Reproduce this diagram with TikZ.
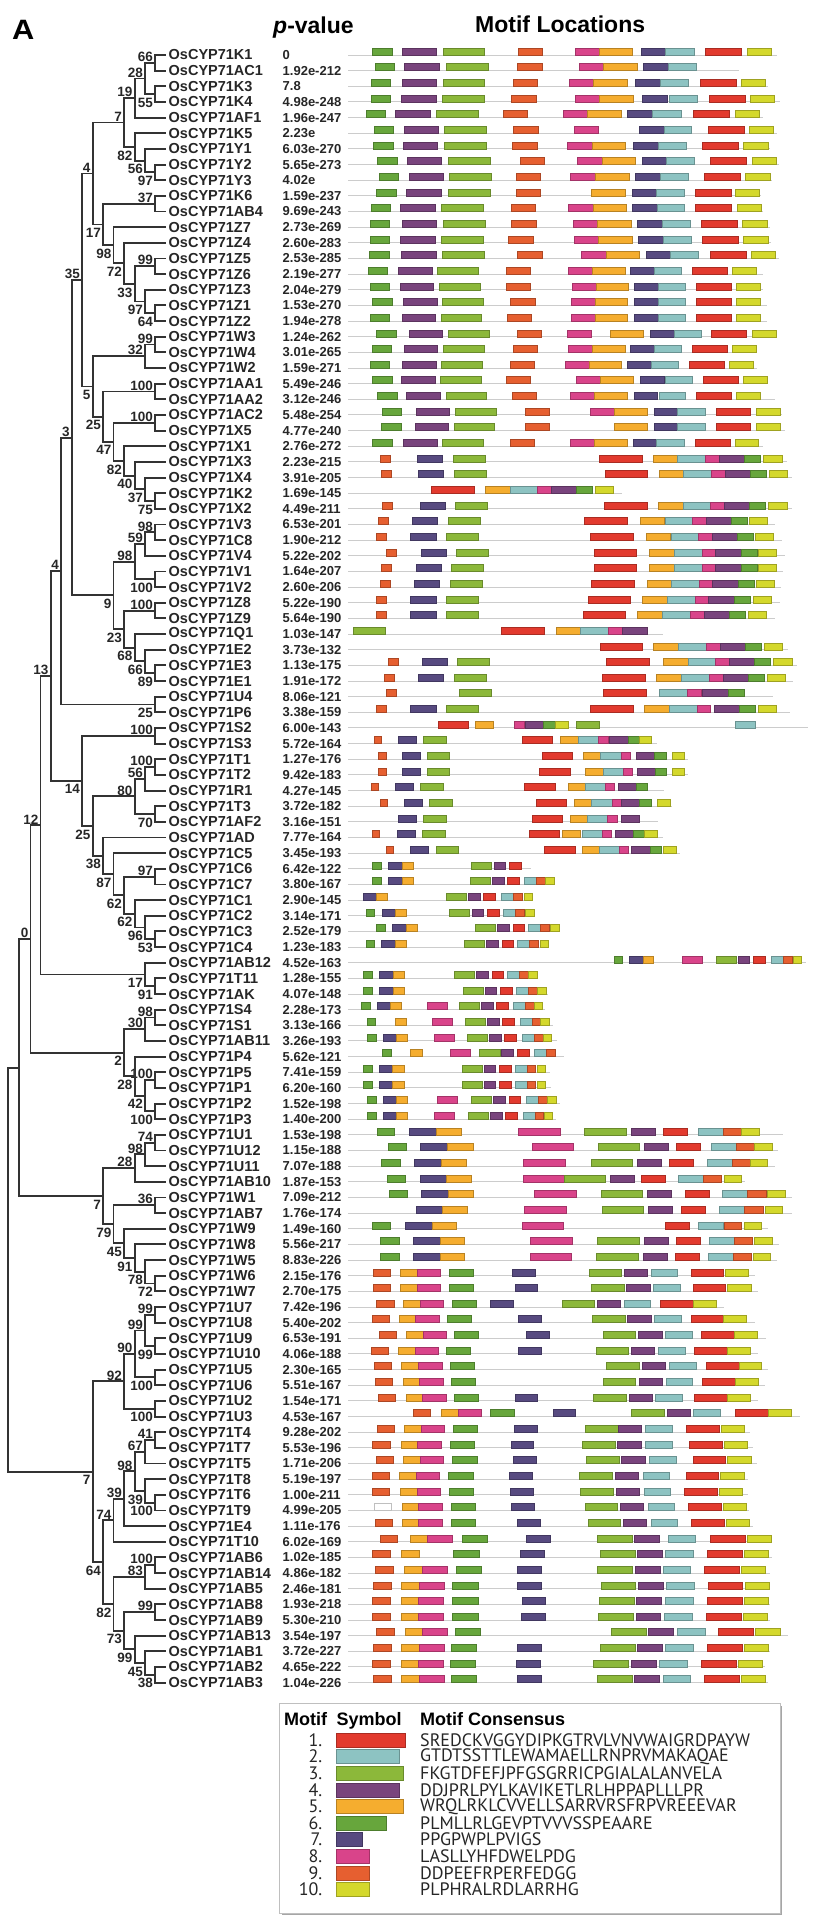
\documentclass[tikz,border=0pt]{standalone}
\usepackage{fontspec}
\setmainfont{Liberation Sans}
\newfontfamily\consfont{PT Sans}
\usetikzlibrary{calc}

\definecolor{m1}{HTML}{E23A2E}
\definecolor{m2}{HTML}{8DC3C2}
\definecolor{m3}{HTML}{8CB83A}
\definecolor{m4}{HTML}{79447D}
\definecolor{m5}{HTML}{F5AD2F}
\definecolor{m6}{HTML}{67A63C}
\definecolor{m7}{HTML}{574A80}
\definecolor{m8}{HTML}{D9448A}
\definecolor{m9}{HTML}{E65F30}
\definecolor{m10}{HTML}{D4D82C}
\definecolor{mw}{HTML}{FFFFFF}
\definecolor{treeline}{HTML}{333333}

\tikzset{
  branch/.style={draw=treeline, line width=1.9pt},
  leaf/.style={anchor=west, inner xsep=3pt, inner ysep=0pt, text=black!85,
    font=\fontsize{14.5}{16}\selectfont\bfseries},
  pval/.style={anchor=west, inner sep=0pt, text=black!85,
    font=\fontsize{13}{15}\selectfont\bfseries},
  bootA/.style={anchor=south east, inner xsep=2pt, inner ysep=1pt, text=black!85,
    font=\fontsize{13.5}{15}\selectfont\bfseries},
  bootB/.style={bootA, anchor=north east, yshift=-2.5pt},
  head/.style={anchor=base west, inner sep=0pt, font=\fontsize{23}{26}\selectfont\bfseries},
  lhead/.style={anchor=base west, inner sep=0pt, font=\fontsize{18}{20}\selectfont\bfseries},
  lcons/.style={anchor=west, inner sep=0pt, text=black!85, font=\fontsize{18}{20}\consfont},
  seqline/.style={draw=black!20, line width=1pt},
  motif/.style={fill=m#1, draw=m#1!75!black, line width=0.35pt},
}

% one clade: name, depth, upper child, lower child, bootstrap, label side
\newcommand\clade[6]{%
  \path let \p1=(#3), \p2=(#4) in coordinate (#1) at (#2pt, {0.5*(\y1+\y2)});
  \draw[branch] (#3) -| (#1) |- (#4);
  \node[#6] (b#1) at (#1) {#5};
}

% one sequence row: row number, line end, motif/start/end list
\newcommand\motifs[3]{%
  \pgfmathsetmacro\ry{55+(#1-1)*15.65}
  \draw[seqline] (24,\ry) -- (#2,\ry);
  \foreach \m/\a/\b in {#3}
    \draw[motif=\m] (\a,\ry) rectangle (\b,\ry-7);
}

\begin{document}
\begin{tikzpicture}[x=1pt, y=-1pt]
  \useasboundingbox (0,0) rectangle (822,1920);

  \node[head, font=\fontsize{28}{30}\selectfont\bfseries] (panel) at (12,39.5) {\scalebox{1.1}[1]{A}};
  \node[head] (phead) at (273,33) {\textit{p}-value};
  \node[head] (mhead) at (475,32) {Motif Locations};

  % leaves and p-values
  \foreach \gene/\pv [count=\k] in {K1/0, AC1/1.92e-212, K3/7.8, K4/4.98e-248, AF1/1.96e-247,
      K5/2.23e, Y1/6.03e-270, Y2/5.65e-273, Y3/4.02e, K6/1.59e-237, AB4/9.69e-243,
      Z7/2.73e-269, Z4/2.60e-283, Z5/2.53e-285, Z6/2.19e-277, Z3/2.04e-279, Z1/1.53e-270,
      Z2/1.94e-278, W3/1.24e-262, W4/3.01e-265, W2/1.59e-271, AA1/5.49e-246, AA2/3.12e-246,
      AC2/5.48e-254, X5/4.77e-240, X1/2.76e-272, X3/2.23e-215, X4/3.91e-205, K2/1.69e-145,
      X2/4.49e-211, V3/6.53e-201, C8/1.90e-212, V4/5.22e-202, V1/1.64e-207, V2/2.60e-206,
      Z8/5.22e-190, Z9/5.64e-190, Q1/1.03e-147, E2/3.73e-132, E3/1.13e-175, E1/1.91e-172,
      U4/8.06e-121, P6/3.38e-159, S2/6.00e-143, S3/5.72e-164, T1/1.27e-176, T2/9.42e-183,
      R1/4.27e-145, T3/3.72e-182, AF2/3.16e-151, AD/7.77e-164, C5/3.45e-193, C6/6.42e-122,
      C7/3.80e-167, C1/2.90e-145, C2/3.14e-171, C3/2.52e-179, C4/1.23e-183, AB12/4.52e-163,
      T11/1.28e-155, AK/4.07e-148, S4/2.28e-173, S1/3.13e-166, AB11/3.26e-193, P4/5.62e-121,
      P5/7.41e-159, P1/6.20e-160, P2/1.52e-198, P3/1.40e-200, U1/1.53e-198, U12/1.15e-188,
      U11/7.07e-188, AB10/1.87e-153, W1/7.09e-212, AB7/1.76e-174, W9/1.49e-160, W8/5.56e-217,
      W5/8.83e-226, W6/2.15e-176, W7/2.70e-175, U7/7.42e-196, U8/5.40e-202, U9/6.53e-191,
      U10/4.06e-188, U5/2.30e-165, U6/5.51e-167, U2/1.54e-171, U3/4.53e-167, T4/9.28e-202,
      T7/5.53e-196, T5/1.71e-206, T8/5.19e-197, T6/1.00e-211, T9/4.99e-205, E4/1.11e-176,
      T10/6.02e-169, AB6/1.02e-185, AB14/4.86e-182, AB5/2.46e-181, AB8/1.93e-218,
      AB9/5.30e-210, AB13/3.54e-197, AB1/3.72e-227, AB2/4.65e-222, AB3/1.04e-226}
  {
    \node[leaf] (\gene) at (165.5, {55+(\k-1)*15.65}) {OsCYP71\gene};
    \node[pval] (p\gene) at (282.5, {55+(\k-1)*15.65}) {\pv};
  }

  % tree
  \clade{n1}{155}{K1}{AC1}{66}{bootA}
  \clade{n2}{155}{K3}{K4}{55}{bootB}
  \clade{n3}{145}{n1}{n2}{28}{bootA}
  \clade{n4}{134.7}{n3}{AF1}{19}{bootA}
  \clade{n5}{155}{Y2}{Y3}{97}{bootB}
  \clade{n6}{145}{Y1}{n5}{56}{bootB}
  \clade{n7}{134.7}{K5}{n6}{82}{bootB}
  \clade{n8}{124}{n4}{n7}{7}{bootA}
  \clade{n9}{155}{K6}{AB4}{37}{bootA}
  \clade{n10}{155}{Z5}{Z6}{99}{bootA}
  \clade{n11}{155}{Z1}{Z2}{64}{bootB}
  \clade{n12}{145}{Z3}{n11}{97}{bootB}
  \clade{n13}{134.7}{n10}{n12}{33}{bootB}
  \clade{n14}{124}{Z4}{n13}{72}{bootB}
  \clade{n15}{113.5}{Z7}{n14}{98}{bootB}
  \clade{n16}{103.2}{n9}{n15}{17}{bootB}
  \clade{n17}{92.7}{n8}{n16}{4}{bootA}
  \clade{n18}{155}{W3}{W4}{99}{bootA}
  \clade{n19}{145}{n18}{W2}{32}{bootA}
  \clade{n20}{155}{AA1}{AA2}{100}{bootA}
  \clade{n21}{155}{AC2}{X5}{100}{bootA}
  \clade{n22}{155}{K2}{X2}{75}{bootB}
  \clade{n23}{145}{X4}{n22}{37}{bootB}
  \clade{n24}{134.7}{X3}{n23}{40}{bootB}
  \clade{n25}{124}{X1}{n24}{82}{bootB}
  \clade{n26}{113.5}{n21}{n25}{47}{bootB}
  \clade{n27}{103.2}{n20}{n26}{25}{bootB}
  \clade{n28}{92.7}{n19}{n27}{5}{bootB}
  \clade{n29}{82}{n17}{n28}{35}{bootA}
  \clade{n30}{155}{V3}{C8}{98}{bootA}
  \clade{n31}{145}{n30}{V4}{59}{bootA}
  \clade{n32}{155}{V1}{V2}{100}{bootB}
  \clade{n33}{134.7}{n31}{n32}{98}{bootA}
  \clade{n34}{155}{Z8}{Z9}{100}{bootA}
  \clade{n35}{155}{E3}{E1}{89}{bootB}
  \clade{n36}{145}{E2}{n35}{66}{bootB}
  \clade{n37}{134.7}{Q1}{n36}{68}{bootB}
  \clade{n38}{124}{n34}{n37}{23}{bootB}
  \clade{n39}{113.5}{n33}{n38}{9}{bootB}
  \clade{n40}{71.8}{n29}{n39}{3}{bootA}
  \clade{n41}{155}{U4}{P6}{25}{bootB}
  \clade{n42}{61}{n40}{n41}{4}{bootA}
  \clade{n43}{155}{S2}{S3}{100}{bootA}
  \clade{n44}{155}{T1}{T2}{100}{bootA}
  \clade{n45}{145}{n44}{R1}{56}{bootA}
  \clade{n46}{155}{T3}{AF2}{70}{bootB}
  \clade{n47}{134.7}{n45}{n46}{80}{bootA}
  \clade{n48}{155}{C6}{C7}{97}{bootA}
  \clade{n49}{155}{C3}{C4}{53}{bootB}
  \clade{n50}{145}{C2}{n49}{96}{bootB}
  \clade{n51}{134.7}{C1}{n50}{62}{bootB}
  \clade{n52}{124}{n48}{n51}{62}{bootB}
  \clade{n53}{113.5}{C5}{n52}{87}{bootB}
  \clade{n54}{103.2}{AD}{n53}{38}{bootB}
  \clade{n55}{92.7}{n47}{n54}{25}{bootB}
  \clade{n56}{82}{n43}{n55}{14}{bootB}
  \clade{n57}{50.7}{n42}{n56}{13}{bootA}
  \clade{n58}{155}{T11}{AK}{91}{bootB}
  \clade{n59}{145}{AB12}{n58}{17}{bootB}
  \clade{n60}{40.5}{n57}{n59}{12}{bootA}
  \clade{n61}{155}{S4}{S1}{98}{bootA}
  \clade{n62}{145}{n61}{AB11}{30}{bootA}
  \clade{n63}{155}{P5}{P1}{100}{bootA}
  \clade{n64}{155}{P2}{P3}{100}{bootB}
  \clade{n65}{145}{n63}{n64}{42}{bootB}
  \clade{n66}{134.7}{P4}{n65}{28}{bootB}
  \clade{n67}{124}{n62}{n66}{2}{bootB}
  \clade{n68}{30.5}{n60}{n67}{0}{bootA}
  \clade{n69}{155}{U1}{U12}{74}{bootA}
  \clade{n70}{145}{n69}{U11}{98}{bootA}
  \clade{n71}{134.7}{n70}{AB10}{28}{bootA}
  \clade{n72}{155}{W1}{AB7}{36}{bootA}
  \clade{n73}{155}{W6}{W7}{72}{bootB}
  \clade{n74}{145}{W5}{n73}{78}{bootB}
  \clade{n75}{134.7}{W8}{n74}{91}{bootB}
  \clade{n76}{124}{W9}{n75}{45}{bootB}
  \clade{n77}{113.5}{n72}{n76}{79}{bootB}
  \clade{n78}{103.2}{n71}{n77}{7}{bootB}
  \path let \p1=(n68), \p2=(n78) in coordinate (n79) at (19.3pt, {0.5*(\y1+\y2)});
  \draw[branch] (n68) -| (n79) |- (n78);
  \clade{n80}{155}{U7}{U8}{99}{bootA}
  \clade{n81}{155}{U9}{U10}{99}{bootB}
  \clade{n82}{145}{n80}{n81}{99}{bootA}
  \clade{n83}{155}{U5}{U6}{100}{bootB}
  \clade{n84}{134.7}{n82}{n83}{90}{bootA}
  \clade{n85}{155}{U2}{U3}{100}{bootB}
  \clade{n86}{124}{n84}{n85}{92}{bootA}
  \clade{n87}{155}{T4}{T7}{41}{bootA}
  \clade{n88}{145}{n87}{T5}{67}{bootA}
  \clade{n89}{155}{T6}{T9}{100}{bootB}
  \clade{n90}{145}{T8}{n89}{39}{bootB}
  \clade{n91}{134.7}{n88}{n90}{98}{bootA}
  \clade{n92}{124}{n91}{E4}{39}{bootA}
  \clade{n93}{113.5}{n92}{T10}{74}{bootA}
  \clade{n94}{155}{AB6}{AB14}{100}{bootA}
  \clade{n95}{145}{n94}{AB5}{83}{bootA}
  \clade{n96}{155}{AB8}{AB9}{99}{bootA}
  \clade{n97}{155}{AB2}{AB3}{38}{bootB}
  \clade{n98}{145}{AB1}{n97}{45}{bootB}
  \clade{n99}{134.7}{AB13}{n98}{99}{bootB}
  \clade{n100}{124}{n96}{n99}{73}{bootB}
  \clade{n101}{113.5}{n95}{n100}{82}{bootB}
  \clade{n102}{103.2}{n93}{n101}{64}{bootB}
  \clade{n103}{92.7}{n86}{n102}{7}{bootB}
  \path let \p1=(n79), \p2=(n103) in coordinate (root) at (8.3pt, {0.5*(\y1+\y2)});
  \draw[branch] (n79) -| (root) |- (n103);

  % motif locations, 3 units per pixel
  \begin{scope}[xshift=340pt, x=0.3333pt]
    \motifs{1}{1310}{6/97/157, 4/187/290, 3/309/434, 9/535/608, 8/705/778, 5/778/878, 7/903/977, 2/977/1062, 1/1097/1205, 10/1222/1295}
    \motifs{2}{1197}{6/105/164, 4/194/298, 3/318/444, 9/533/606, 8/717/791, 5/791/891, 7/910/985, 2/985/1068}
    \motifs{3}{1285}{6/93/152, 4/187/290, 3/309/434, 9/520/593, 8/687/761, 5/761/862, 7/886/960, 2/960/1044, 1/1080/1188, 10/1203/1277}
    \motifs{4}{1320}{6/93/152, 4/185/288, 3/306/432, 9/515/588, 8/705/778, 5/778/879, 7/908/981, 2/987/1071, 1/1107/1215, 10/1230/1304}
    \motifs{5}{1270}{6/78/137, 4/167/270, 3/288/414, 9/490/563, 8/669/743, 5/743/845, 7/863/937, 2/937/1023, 1/1060/1167, 10/1185/1257}
    \motifs{6}{1310}{6/102/161, 4/192/296, 3/314/439, 9/520/594, 8/702/775, 7/898/972, 2/972/1055, 1/1105/1212, 10/1228/1301}
    \motifs{7}{1290}{6/100/159, 4/190/293, 3/312/438, 9/518/591, 8/682/756, 5/756/857, 7/880/955, 2/955/1038, 1/1087/1195, 10/1211/1284}
    \motifs{8}{1318}{6/112/171, 4/202/305, 3/324/450, 9/540/613, 8/712/786, 5/786/887, 7/906/980, 2/980/1063, 1/1112/1220, 10/1236/1310}
    \motifs{9}{1295}{6/117/176, 4/207/310, 3/329/455, 9/528/601, 8/692/766, 5/766/867, 7/886/960, 2/960/1044, 1/1092/1200, 10/1216/1290}
    \motifs{10}{1262}{6/110/169, 4/200/303, 3/324/450, 9/528/601, 5/754/857, 7/876/950, 2/950/1034, 1/1067/1175, 10/1185/1257}
    \motifs{11}{1270}{6/93/152, 4/182/285, 3/304/430, 9/513/586, 8/685/759, 5/759/860, 7/878/952, 2/952/1034, 1/1067/1175, 10/1191/1265}
    \motifs{12}{1290}{6/90/149, 4/187/290, 3/309/435, 9/515/588, 8/699/773, 5/773/875, 7/893/967, 2/967/1051, 1/1084/1192, 10/1208/1282}
    \motifs{13}{1293}{6/90/149, 4/182/285, 3/304/430, 9/506/579, 8/702/776, 5/776/877, 7/895/969, 2/969/1053, 1/1087/1195, 10/1211/1284}
    \motifs{14}{1318}{6/88/147, 4/185/288, 3/306/432, 9/533/606, 8/724/798, 5/798/899, 7/918/992, 2/992/1076, 1/1110/1218, 10/1233/1307}
    \motifs{15}{1268}{6/84/142, 4/176/276, 3/293/416, 9/499/570, 8/684/756, 5/756/855, 7/872/943, 2/943/1025, 1/1057/1163, 10/1177/1250}
    \motifs{16}{1270}{6/90/147, 4/180/281, 3/298/420, 9/500/572, 8/696/768, 5/768/866, 7/884/956, 2/956/1037, 1/1069/1174, 10/1189/1261}
    \motifs{17}{1280}{6/98/156, 4/190/291, 3/308/430, 9/512/585, 8/693/765, 5/765/863, 7/883/956, 2/956/1037, 1/1069/1174, 10/1189/1261}
    \motifs{18}{1280}{6/91/149, 4/186/286, 3/303/425, 9/503/575, 8/693/765, 5/765/863, 7/883/956, 2/956/1037, 1/1069/1174, 10/1189/1261}
    \motifs{19}{1310}{6/110/168, 4/207/307, 3/325/447, 9/533/604, 8/681/753, 5/812/911, 7/930/1002, 2/1002/1083, 1/1115/1220, 10/1236/1308}
    \motifs{20}{1250}{6/96/153, 4/193/293, 3/311/432, 9/520/591, 8/684/756, 5/756/855, 7/872/943, 2/943/1025, 1/1057/1163, 10/1177/1250}
    \motifs{21}{1250}{6/91/149, 4/188/288, 3/305/428, 9/511/582, 8/675/747, 5/747/845, 7/862/934, 2/934/1016, 1/1048/1153, 10/1168/1240}
    \motifs{22}{1280}{6/98/156, 4/185/286, 3/302/425, 9/499/570, 8/710/782, 5/782/880, 7/901/972, 2/975/1056, 1/1089/1194, 10/1209/1281}
    \motifs{23}{1305}{6/113/171, 4/200/300, 3/318/440, 9/518/589, 8/691/763, 5/763/861, 7/882/953, 2/957/1037, 1/1070/1175, 10/1190/1261}
    \motifs{24}{1325}{6/127/185, 4/230/329, 3/347/469, 9/556/627, 8/752/824, 5/824/922, 7/942/1013, 2/1013/1095, 1/1128/1232, 10/1248/1320}
    \motifs{25}{1335}{6/125/183, 4/225/325, 3/342/464, 9/556/627, 5/824/922, 7/942/1013, 2/1013/1095, 1/1128/1232, 10/1248/1320}
    \motifs{26}{1268}{6/98/156, 4/190/291, 3/308/430, 9/511/582, 8/691/763, 5/763/861, 7/879/950, 2/950/1032, 1/1065/1170, 10/1185/1256}
    \motifs{27}{1340}{9/122/152, 7/233/308, 3/339/436, 1/778/906, 5/939/1013, 2/1013/1096, 8/1096/1138, 4/1138/1213, 6/1213/1262, 10/1269/1326}
    \motifs{28}{1355}{9/125/155, 7/235/311, 3/343/438, 1/795/923, 5/957/1031, 2/1031/1115, 8/1115/1156, 4/1156/1232, 6/1232/1280, 10/1287/1343}
    \motifs{29}{845}{1/273/402, 5/435/510, 2/510/593, 8/593/635, 4/635/710, 6/710/758, 10/766/821}
    \motifs{30}{1355}{9/127/157, 7/240/316, 3/347/443, 1/793/921, 5/955/1029, 2/1029/1111, 8/1111/1153, 4/1153/1229, 6/1229/1277, 10/1285/1341}
    \motifs{31}{1305}{9/115/145, 7/218/293, 3/324/420, 1/733/862, 5/900/974, 2/976/1058, 8/1058/1098, 4/1100/1175, 6/1175/1223, 10/1228/1282}
    \motifs{32}{1325}{9/110/140, 7/212/288, 3/319/415, 1/751/880, 5/918/992, 2/993/1076, 8/1076/1116, 4/1118/1193, 6/1193/1241, 10/1246/1300}
    \motifs{33}{1335}{9/140/170, 7/243/318, 3/350/446, 1/762/890, 5/928/1003, 2/1003/1086, 8/1086/1127, 4/1127/1203, 6/1203/1251, 10/1255/1310}
    \motifs{34}{1330}{9/125/155, 7/228/303, 3/335/431, 1/762/890, 5/928/1003, 2/1003/1086, 8/1086/1127, 4/1127/1203, 6/1203/1251, 10/1255/1310}
    \motifs{35}{1322}{9/120/150, 7/222/298, 3/330/426, 1/754/883, 5/922/995, 2/995/1078, 8/1078/1118, 4/1118/1196, 6/1196/1244, 10/1248/1302}
    \motifs{36}{1320}{9/110/140, 7/212/288, 3/319/415, 1/745/872, 5/908/982, 2/982/1066, 8/1066/1106, 4/1106/1183, 6/1183/1231, 10/1240/1295}
    \motifs{37}{1305}{9/110/140, 7/212/288, 3/319/415, 1/730/857, 5/893/966, 2/966/1050, 8/1050/1092, 4/1092/1168, 6/1168/1216, 10/1224/1280}
    \motifs{38}{970}{3/41/137, 1/485/614, 5/648/721, 2/721/804, 8/804/846, 4/846/921}
    \motifs{39}{1345}{1/780/908, 5/941/1015, 2/1015/1100, 8/1100/1140, 4/1140/1216, 6/1216/1264, 10/1272/1328}
    \motifs{40}{1370}{9/146/176, 7/246/321, 3/353/449, 1/800/928, 5/970/1044, 2/1044/1127, 8/1127/1168, 4/1168/1244, 6/1244/1292, 10/1300/1356}
    \motifs{41}{1358}{9/134/162, 7/236/311, 3/343/438, 1/787/916, 5/948/1023, 2/1023/1108, 8/1108/1150, 4/1150/1225, 6/1225/1273, 10/1282/1337}
    \motifs{42}{1300}{9/138/168, 3/358/453, 1/790/918, 2/958/1042, 8/1042/1083, 4/1088/1165, 6/1165/1213}
    \motifs{43}{1350}{9/110/140, 7/212/288, 3/319/415, 1/751/880, 5/912/988, 2/988/1071, 8/1071/1110, 4/1122/1198, 6/1198/1246, 10/1254/1310}
    \motifs{44}{1405}{1/294/385, 5/407/460, 8/523/552, 4/556/610, 6/610/645, 10/645/684, 3/710/779, 2/1185/1247}
    \motifs{45}{950}{9/103/123, 7/174/229, 3/250/318, 1/547/638, 5/660/714, 2/714/775, 8/775/804, 4/808/864, 6/864/898, 10/898/935}
    \motifs{46}{1045}{9/116/138, 7/187/241, 3/261/329, 1/606/698, 5/729/782, 2/782/843, 8/843/870, 4/889/943, 6/943/978, 10/996/1033}
    \motifs{47}{1045}{9/116/138, 7/187/241, 3/261/329, 1/599/691, 5/735/790, 2/790/850, 8/850/878, 4/891/945, 6/945/980, 10/996/1033}
    \motifs{48}{972}{9/93/114, 7/166/220, 3/241/309, 1/554/645, 5/684/737, 2/737/797, 8/797/824, 4/834/888, 6/888/922}
    \motifs{49}{995}{9/121/143, 7/192/247, 3/268/336, 1/588/680, 5/702/755, 2/755/816, 8/816/844, 4/844/898, 6/898/933, 10/952/991}
    \motifs{50}{955}{7/176/230, 3/250/318, 1/577/668, 5/690/743, 2/743/802, 8/802/832, 4/845/898}
    \motifs{51}{970}{9/97/118, 7/171/225, 3/246/316, 1/567/658, 5/667/720, 2/726/787, 8/787/815, 4/826/880, 6/880/914, 10/914/952}
    \motifs{52}{1020}{9/139/160, 7/212/266, 3/288/356, 1/613/705, 5/726/779, 2/779/838, 8/838/866, 4/875/930, 6/930/963, 10/969/1008}
    \motifs{53}{572}{6/97/123, 7/146/186, 5/186/219, 3/395/455, 4/463/497, 1/508/543}
    \motifs{54}{645}{6/97/123, 7/146/186, 5/186/219, 3/390/450, 4/457/492, 1/503/538, 2/553/590, 9/590/616, 10/616/644}
    \motifs{55}{578}{7/70/109, 5/109/143, 3/318/378, 4/386/421, 1/431/467, 2/483/519, 9/519/546, 10/552/577}
    \motifs{56}{582}{6/78/104, 7/126/165, 5/165/199, 3/329/389, 4/396/431, 1/441/477, 2/490/526, 9/526/552, 10/556/582}
    \motifs{57}{660}{6/110/136, 7/158/198, 5/198/231, 3/405/465, 4/473/507, 1/519/553, 2/566/601, 9/601/628, 10/632/657}
    \motifs{58}{625}{6/78/104, 7/124/165, 5/165/198, 3/372/432, 4/439/474, 1/486/521, 2/533/569, 9/569/596, 10/600/625}
    \motifs{59}{1398}{6/822/848, 7/868/909, 5/909/941, 8/1027/1086, 3/1128/1188, 4/1194/1229, 1/1240/1275, 2/1294/1329, 9/1329/1357, 10/1359/1385}
    \motifs{60}{593}{6/70/97, 7/119/159, 5/159/193, 3/344/404, 4/410/445, 1/456/490, 2/503/539, 9/539/566, 10/566/593}
    \motifs{61}{625}{6/70/97, 7/119/159, 5/159/193, 3/369/429, 4/435/470, 1/481/516, 2/530/566, 9/566/592, 10/592/620}
    \motifs{62}{615}{6/65/92, 7/112/152, 5/152/185, 8/261/321, 3/358/418, 4/424/459, 1/469/504, 2/521/557, 9/557/583, 10/583/607}
    \motifs{63}{640}{6/81/107, 5/166/200, 8/278/337, 3/377/437, 4/443/478, 1/488/523, 2/540/576, 9/576/602, 10/602/628}
    \motifs{64}{650}{6/82/108, 7/129/168, 5/168/202, 8/282/342, 3/383/443, 4/449/484, 1/494/529, 2/547/583, 9/583/609, 10/609/635}
    \motifs{65}{672}{6/127/153, 5/211/246, 8/332/392, 3/419/480, 4/485/520, 1/532/567, 2/584/620, 9/620/646}
    \motifs{66}{630}{6/71/97, 7/118/158, 5/158/192, 3/366/426, 4/432/467, 1/478/513, 2/525/561, 9/561/587, 10/591/616}
    \motifs{67}{632}{6/71/97, 7/118/158, 5/158/192, 3/366/426, 4/432/467, 1/478/513, 2/525/561, 9/561/587, 10/591/616}
    \motifs{68}{660}{6/83/109, 7/129/169, 5/169/203, 8/291/351, 3/395/455, 4/461/496, 1/507/541, 2/558/594, 9/594/621, 10/623/648}
    \motifs{69}{648}{6/83/109, 7/129/169, 5/169/203, 8/283/343, 3/385/445, 4/451/486, 1/497/532, 2/549/585, 9/585/611, 10/613/638}
    \motifs{70}{1330}{6/111/164, 7/207/288, 5/288/365, 8/536/661, 3/734/858, 4/873/945, 1/969/1042, 2/1074/1150, 9/1150/1205, 10/1205/1257}
    \motifs{71}{1315}{6/145/199, 7/242/323, 5/323/399, 8/576/700, 3/774/898, 4/912/985, 1/1008/1080, 2/1114/1188, 9/1190/1244, 10/1244/1296}
    \motifs{72}{1305}{6/125/180, 7/222/303, 5/303/379, 8/551/676, 3/753/878, 4/893/965, 1/988/1061, 2/1101/1177, 9/1177/1232, 10/1232/1283}
    \motifs{73}{1215}{6/143/197, 7/240/320, 5/320/395, 8/549/673, 3/673/797, 4/812/884, 1/904/977, 2/1015/1090, 9/1090/1145, 10/1152/1205}
    \motifs{74}{1355}{6/148/202, 7/245/325, 5/325/399, 8/583/708, 3/783/907, 4/921/994, 1/1036/1108, 2/1148/1222, 9/1222/1278, 10/1282/1335}
    \motifs{75}{1355}{7/228/308, 5/308/381, 8/554/678, 3/787/910, 4/925/997, 1/1023/1096, 2/1139/1213, 9/1213/1269, 10/1275/1328}
    \motifs{76}{1285}{6/98/152, 7/196/276, 5/276/350, 8/546/670, 1/976/1049, 2/1074/1150, 9/1152/1205, 10/1213/1265}
    \motifs{77}{1318}{6/122/177, 7/220/300, 5/300/374, 8/572/697, 3/773/898, 4/912/985, 1/1008/1080, 2/1108/1182, 9/1184/1238, 10/1242/1296}
    \motifs{78}{1312}{6/122/177, 7/220/300, 5/300/374, 8/570/695, 3/770/895, 4/909/982, 1/1005/1078, 2/1105/1180, 9/1181/1235, 10/1239/1292}
    \motifs{79}{1245}{9/101/152, 5/181/231, 8/231/301, 6/327/399, 7/518/586, 3/747/845, 4/853/923, 2/933/1013, 1/1053/1151, 10/1155/1226}
    \motifs{80}{1255}{9/101/152, 5/182/232, 8/232/301, 6/327/399, 7/525/593, 3/753/852, 4/860/930, 2/940/1020, 1/1059/1157, 10/1163/1233}
    \motifs{81}{1152}{9/110/162, 5/191/241, 8/241/311, 6/336/408, 7/452/520, 3/666/764, 4/772/842, 2/853/932, 1/962/1060, 10/1060/1130}
    \motifs{82}{1245}{9/96/147, 5/177/227, 8/227/297, 6/322/394, 7/535/603, 3/756/855, 4/863/933, 2/943/1023, 1/1053/1151, 10/1151/1219}
    \motifs{83}{1278}{9/118/169, 5/199/249, 8/249/318, 6/343/415, 7/559/627, 3/789/887, 4/896/966, 2/976/1056, 1/1085/1184, 10/1184/1253}
    \motifs{84}{1255}{9/94/145, 5/175/225, 8/225/295, 6/319/391, 7/535/603, 3/768/866, 4/875/944, 2/955/1035, 1/1064/1163, 10/1163/1232}
    \motifs{85}{1283}{9/103/155, 5/184/234, 8/234/306, 6/331/403, 3/798/897, 4/907/977, 2/988/1068, 1/1098/1197, 10/1197/1265}
    \motifs{86}{1275}{9/106/157, 5/189/239, 8/239/309, 6/333/406, 3/789/887, 4/898/968, 2/978/1058, 1/1088/1187, 10/1187/1255}
    \motifs{87}{1255}{9/115/166, 5/198/248, 8/248/318, 6/343/415, 7/525/593, 3/760/858, 4/867/937, 2/947/1027, 1/1064/1163, 10/1163/1232}
    \motifs{88}{1380}{9/219/271, 5/305/355, 8/355/425, 6/450/522, 7/639/707, 3/875/972, 4/981/1051, 2/1061/1141, 1/1187/1286, 10/1286/1355}
    \motifs{89}{1230}{9/113/164, 5/193/243, 8/243/313, 6/341/413, 7/523/591, 3/735/834, 4/834/904, 2/916/996, 1/1040/1139, 10/1144/1214}
    \motifs{90}{1240}{9/98/150, 5/183/233, 8/233/303, 6/331/403, 7/513/581, 3/727/825, 4/833/903, 2/916/996, 1/1047/1146, 10/1152/1222}
    \motifs{91}{1250}{9/110/161, 5/191/241, 8/241/311, 6/338/411, 7/520/588, 3/738/837, 4/845/915, 2/928/1008, 1/1059/1157, 10/1163/1233}
    \motifs{92}{1225}{9/98/149, 5/179/229, 8/229/299, 6/326/399, 7/509/577, 3/719/818, 4/826/896, 2/909/989, 1/1038/1136, 10/1142/1212}
    \motifs{93}{1225}{9/98/149, 5/181/231, 8/231/301, 6/328/401, 7/511/579, 3/722/821, 4/829/899, 2/912/992, 1/1033/1131, 10/1137/1207}
    \motifs{94}{1228}{w/103/154, 5/186/236, 8/236/306, 6/333/405, 7/515/583, 3/735/833, 4/841/911, 2/924/1004, 1/1045/1143, 10/1149/1219}
    \motifs{95}{1240}{9/105/157, 5/186/236, 8/236/306, 6/333/406, 7/532/600, 3/744/842, 4/850/920, 2/933/1013, 1/1055/1153, 10/1159/1229}
    \motifs{96}{1295}{9/120/173, 5/210/263, 8/263/337, 6/366/442, 7/558/630, 3/773/878, 4/884/958, 2/984/1067, 1/1111/1215, 10/1222/1294}
    \motifs{97}{1295}{9/97/151, 5/185/238, 6/340/417, 7/540/612, 3/780/885, 4/893/967, 2/975/1060, 1/1102/1206, 10/1212/1286}
    \motifs{98}{1290}{9/105/159, 5/192/247, 8/247/321, 6/348/424, 7/533/604, 3/773/877, 4/886/960, 2/969/1052, 1/1094/1198, 10/1203/1277}
    \motifs{99}{1290}{9/100/154, 5/185/238, 8/238/312, 6/338/414, 7/533/604, 3/783/887, 4/896/970, 2/978/1062, 1/1104/1208, 10/1215/1288}
    \motifs{100}{1290}{9/97/151, 5/183/236, 8/236/309, 6/338/414, 7/546/617, 3/777/882, 4/890/964, 2/975/1060, 1/1102/1206, 10/1212/1286}
    \motifs{101}{1290}{9/97/151, 5/183/236, 8/236/309, 6/338/414, 7/543/615, 3/775/880, 4/889/962, 2/973/1058, 1/1099/1203, 10/1209/1283}
    \motifs{102}{1345}{9/110/163, 5/195/248, 8/248/321, 6/346/422, 3/814/918, 4/926/1000, 2/1011/1095, 1/1136/1241, 10/1247/1321}
    \motifs{103}{1290}{9/99/153, 5/185/238, 8/238/312, 6/333/410, 7/533/604, 3/780/885, 4/893/967, 2/975/1060, 1/1102/1206, 10/1212/1286}
    \motifs{104}{1275}{9/97/151, 5/183/236, 8/236/309, 6/330/407, 7/530/602, 3/760/865, 4/874/948, 2/958/1043, 1/1084/1188, 10/1194/1268}
    \motifs{105}{1285}{9/99/153, 5/185/238, 8/238/312, 6/333/410, 7/533/604, 3/771/876, 4/884/958, 2/969/1052, 1/1094/1198, 10/1203/1277}
  \end{scope}

  % legend
  \draw[black!35, line width=1.6pt] (781.5,1706) -- (781.5,1914.5) -- (282,1914.5);
  \draw[black!25, line width=0.8pt, fill=white] (279,1703) rectangle (780,1913);
  \node[lhead] (lmotif) at (284,1725) {Motif};
  \node[lhead] (lsymbol) at (336.5,1725) {Symbol};
  \node[lhead] (lconsensus) at (420,1725) {Motif Consensus};
  \foreach \k/\len/\cons in {1/69/SREDCKVGGYDIPKGTRVLVNVWAIGRDPAYW,
      2/62.7/GTDTSSTTLEWAMAELLRNPRVMAKAQAE, 3/66.7/FKGTDFEFJPFGSGRRICPGIALALANVELA,
      4/62.7/DDJPRLPYLKAVIKETLRLHPPAPLLLPR, 5/66.7/WRQLRKLCVVELLSARRVRSFRPVREEEVAR,
      6/49.3/PLMLLRLGEVPTVVVSSPEAARE, 7/26/PPGPWPLPVIGS, 8/32.3/LASLLYHFDWELPDG,
      9/32.3/DDPEEFRPERFEDGG, 10/32.3/PLPHRALRDLARRHG}
  {
    \pgfmathsetmacro\ly{1740+(\k-1)*16.6}
    \node[lcons, anchor=east] (lnum\k) at (322.5,\ly) {\k.};
    \draw[motif=\k, line width=0.6pt] (336.7,\ly-7) rectangle ++(\len,14);
    \node[lcons] (lcons\k) at (420,\ly) {\cons};
  }
\end{tikzpicture}
\end{document}
